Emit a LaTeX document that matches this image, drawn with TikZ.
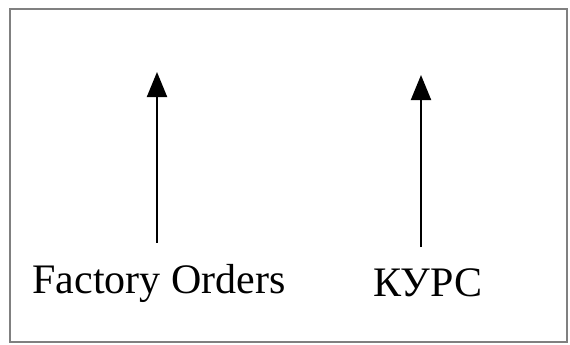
\documentclass[tikz,border=0pt]{standalone}
\usepackage{fontspec}
\setmainfont{Liberation Serif}
\usepackage{tikz}
\usetikzlibrary{arrows.meta}

\begin{document}
\begin{tikzpicture}[x=1pt, y=-1pt,
		label text/.style={anchor=base, inner sep=0pt, outer ysep=21pt, font=\fontsize{42}{50}\selectfont},
		up arrow/.style={line width=2pt, -{Triangle[width=20pt, length=25pt]}}]
		
		% 1. 画布与外框
		\useasboundingbox (0,0) rectangle (570,345);
		\draw[gray, line width=2pt] (10,9) rectangle (567,342);
		
		% 2. 两个标签
		\node[label text] (fo) at (159,293) {Factory Orders};
		\node[label text] (kurs) at (428,296) {КУРС};
		
		% 3. 箭头顶点
		\coordinate (foTip) at (157,72);
		\coordinate (kursTip) at (421,75);
		
		% 4. 向上的箭头
		\draw[up arrow] (fo.north -| foTip) -- (foTip);
		\draw[up arrow] (kurs.north -| kursTip) -- (kursTip);
		
	\end{tikzpicture}
\end{document}
